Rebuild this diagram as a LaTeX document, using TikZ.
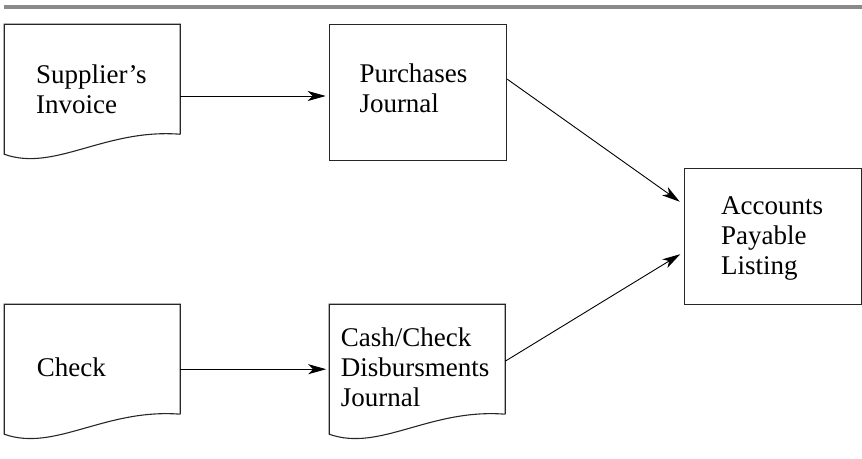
\documentclass[tikz,border=0pt]{standalone}
\usepackage{fontspec}
\setmainfont{Liberation Serif}
\usetikzlibrary{arrows.meta,calc}

\tikzset{
  outline/.style={draw=black!85, line width=1.1pt},
  boxnode/.style={outline, rectangle, minimum width=177.4pt, minimum height=135.7pt, inner sep=0pt},
  docnode/.style={rectangle, draw=none, minimum width=175.6pt, minimum height=129.6pt, inner sep=0pt},
  % base anchor of a multi-line label sits on its last line
  label/.style={anchor=base west, inner sep=0pt, align=left,
    font=\fontsize{27}{30}\selectfont},
  arr/.style={draw=black, line width=0.9pt,
    -{Stealth[length=18pt, width=10pt, inset=5pt]}},
}

% paper document: flat top, wavy bottom edge
\newcommand\docoutline[1]{%
  \draw[outline] ([yshift=20pt]#1.south east) -- (#1.north east) -- (#1.north west) -- (#1.south west)
    .. controls ([xshift=50.5pt,yshift=-18pt]#1.south west) and ([xshift=100.5pt,yshift=26pt]#1.south west)
    .. ([yshift=20pt]#1.south east);}

\begin{document}
\begin{tikzpicture}[x=1pt, y=-1pt]
  \useasboundingbox (0,0) rectangle (862,458);

  % rule across the top
  \fill[black!46] (4,5) rectangle (862,9);

  % shapes
  \node[docnode] (inv) at (92.25,89.25) {};
  \docoutline{inv}
  \node[boxnode] (pj) at (418,92.2) {};
  \node[boxnode] (ap) at (773,236.2) {};
  \node[docnode] (chk) at (92.25,369.2) {};
  \docoutline{chk}
  \node[docnode] (cash) at (417.2,369.2) {};
  \docoutline{cash}

  % labels
  \node[label] (invtxt) at (36,113) {Supplier’s\\Invoice};
  \node[label] (pjtxt) at (359.3,112.7) {Purchases\\Journal};
  \node[label] (aptxt) at (721,274) {Accounts\\Payable\\Listing};
  \node[label] (chktxt) at (36.7,376.7) {Check};
  \node[label] (cashtxt) at (340.7,406) {Cash/Check\\Disbursments\\Journal};

  % flows
  \draw[arr, shorten >=3pt] ([yshift=-6.75pt]inv.east) -- ([yshift=-6.75pt]inv.east -| pj.west);
  \draw[arr, shorten >=3pt] (chk.east) -- (cash.west);
  \draw[arr] ([yshift=13pt]pj.east) -- ([xshift=-4pt,yshift=34.5pt]ap.west);
  \draw[arr] ([yshift=8pt]cash.east) -- ([xshift=-3.5pt,yshift=-18pt]ap.west);
\end{tikzpicture}
\end{document}
